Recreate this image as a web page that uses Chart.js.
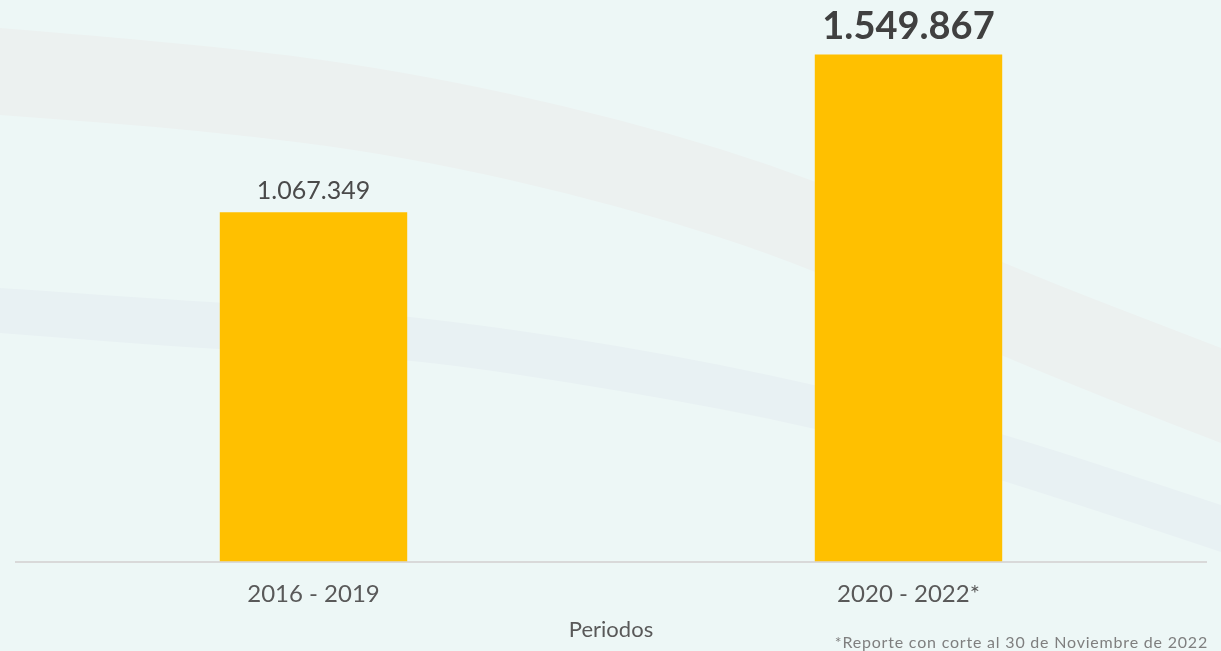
<!DOCTYPE html>
<html>
<head>
<meta charset="utf-8">
<script src="https://cdn.jsdelivr.net/npm/chart.js@4"></script>
<style>
  html, body { margin: 0; padding: 0; background: #edf7f6; }
  #wrap { position: relative; width: 1221px; height: 651px; }
  #note {
    position: absolute; right: 13px; bottom: 0px;
    font: 16px Lato, sans-serif; color: #7f7f7f; line-height: 18px; letter-spacing: 0.8px;
  }
</style>
</head>
<body>
<div id="wrap">
  <canvas id="chart" width="1221" height="651"></canvas>
  <div id="note">*Reporte con corte al 30 de Noviembre de 2022</div>
</div>
<script>
const categories = ['2016 - 2019', '2020 - 2022*'];
const values = [1067349, 1549867];
const axisTitle = 'Periodos';

const fmt = v => v.toString().replace(/\B(?=(\d{3})+(?!\d))/g, '.');

// soft swooshes behind the plot
const background = {
    id: 'background',
    beforeDraw(chart) {
        const ctx = chart.ctx;
        ctx.save();
        ctx.fillStyle = '#edf7f6';
        ctx.fillRect(0, 0, chart.width, chart.height);

        const smooth = (pts, first) => {
            if (first) ctx.moveTo(pts[0][0], pts[0][1]);
            else ctx.lineTo(pts[0][0], pts[0][1]);
            for (let i = 1; i < pts.length - 1; i++) {
                const mx = (pts[i][0] + pts[i + 1][0]) / 2;
                const my = (pts[i][1] + pts[i + 1][1]) / 2;
                ctx.quadraticCurveTo(pts[i][0], pts[i][1], mx, my);
            }
            const last = pts[pts.length - 1];
            ctx.lineTo(last[0], last[1]);
        };
        const band = (top, bottom, color) => {
            ctx.beginPath();
            smooth(top, true);
            smooth(bottom.slice().reverse(), false);
            ctx.closePath();
            ctx.fillStyle = color;
            ctx.fill();
        };
        band([[0, 28], [200, 44], [400, 70], [620, 118], [820, 180], [1000, 263], [1221, 348]],
             [[0, 115], [200, 130], [400, 155], [620, 205], [820, 270], [1000, 358], [1221, 443]],
             '#ecf1f0');
        band([[0, 288], [220, 303], [400, 314], [620, 345], [820, 385], [1000, 432], [1221, 505]],
             [[0, 333], [220, 350], [400, 357], [620, 390], [820, 428], [1000, 478], [1221, 552]],
             '#e8f1f3');
        ctx.restore();
    }
};

const valueLabels = {
    id: 'valueLabels',
    afterDatasetsDraw(chart) {
        const ctx = chart.ctx;
        const meta = chart.getDatasetMeta(0);
        ctx.save();
        ctx.textAlign = 'center';
        ctx.textBaseline = 'alphabetic';
        meta.data.forEach((bar, i) => {
            const big = i === values.length - 1;
            ctx.font = big ? 'bold 38px Lato, sans-serif' : '25px Lato, sans-serif';
            ctx.fillStyle = big ? '#404040' : '#4a4a4a';
            ctx.fillText(fmt(values[i]), bar.x, bar.y - (big ? 15 : 13));
        });
        ctx.restore();
    }
};

new Chart(document.getElementById('chart'), {
    type: 'bar',
    data: {
        labels: categories,
        datasets: [{
            data: values,
            backgroundColor: '#ffc000',
            barPercentage: 0.63,
            categoryPercentage: 0.5
        }]
    },
    options: {
        responsive: false,
        animation: false,
        layout: { padding: { top: 38, left: 16, right: 15, bottom: 8 } },
        plugins: { legend: { display: false }, tooltip: { enabled: false } },
        scales: {
            y: { display: false, min: 0, max: 1600000 },
            x: {
                grid: { display: false, drawTicks: false, tickLength: 0 },
                border: { color: '#d9d9d9', width: 2 },
                ticks: { color: '#595959', font: { family: 'Lato', size: 24, lineHeight: 1 }, padding: 21 },
                title: {
                    display: true, text: axisTitle, color: '#595959',
                    font: { family: 'Lato', size: 22 }, padding: { top: -11, bottom: 0 }
                }
            }
        }
    },
    plugins: [background, valueLabels]
});
</script>
</body>
</html>
